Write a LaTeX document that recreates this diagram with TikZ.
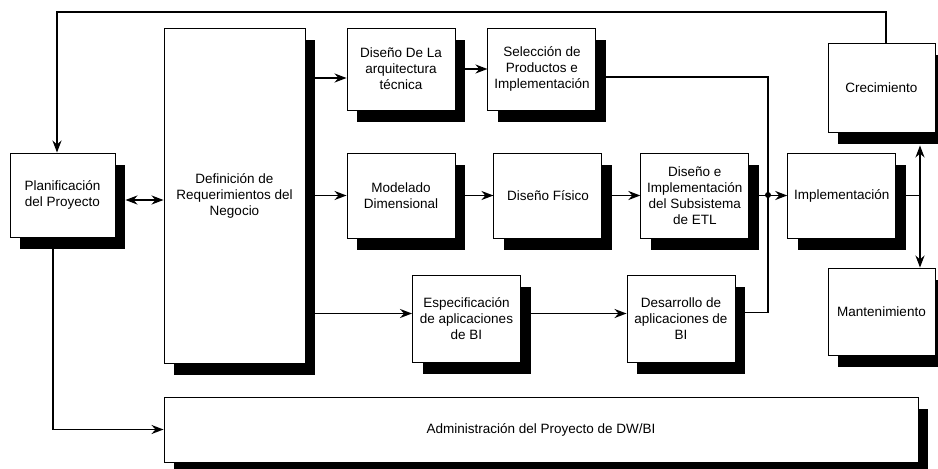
\documentclass[tikz,border=0pt]{standalone}
\usepackage{fontspec}
\setmainfont{Liberation Sans}
\usetikzlibrary{arrows.meta, shadows, positioning, calc}
\tikzset{block/.style = {
  % Rectangle:
  rectangle,
  draw=black, line width=0.9pt, fill=white,
  minimum width=108pt, minimum height=85pt, inner sep=1pt,
  general shadow={fill=black, shadow xshift=10pt, shadow yshift=-12pt},
  % Text
  align=center, font=\fontsize{13.5}{16}\selectfont
  }}
\tikzset{arrow/.style = {
  ->,
  >={Stealth[length=12pt, width=9pt]},
  line width=1.8pt
  }}
\tikzset{link/.style = {
  line width=1.8pt
  }}

\begin{document}
\begin{tikzpicture}[x=1pt, y=-1pt]
\useasboundingbox (0,0) rectangle (938,469);

% NODES
\node (plan) [block, minimum width=105pt, minimum height=84pt] at (62.5,195) {Planificación\\del Proyecto};
\node (defn) [block, minimum width=141pt, minimum height=335pt] at (234.5,195.5) {Definición de\\Requerimientos del\\Negocio};

\node (arq) [block, minimum height=82pt] at (401,69) {Diseño De La\\arquitectura\\técnica};
\node (sel) [block, minimum height=82pt, right=32pt of arq] {Selección de\\Productos e\\Implementación};

\node (mod) [block] at (401,195.5) {Modelado\\Dimensional};
\node (fis) [block, right=38pt of mod] {Diseño Físico};
\node (etl) [block, right=38pt of fis] {Diseño e\\Implementación\\del Subsistema\\de ETL};
\node (impl) [block, right=38pt of etl] {Implementación};

\node (crec) [block, minimum width=107pt, minimum height=89pt] at (881.5,87.5) {Crecimiento};
\node (mant) [block, minimum width=107pt, minimum height=87pt] at (881.5,311.5) {Mantenimiento};

\node (esp) [block, minimum height=87pt] at (466.5,318.5) {Especificación\\de aplicaciones\\de BI};
\node (des) [block, minimum height=87pt] at (681,318.5) {Desarrollo de\\aplicaciones de\\BI};

\node (adm) [block, minimum width=754pt, minimum height=65pt] at (541,429.5) {Administración del Proyecto de DW/BI};

% corners of the connectors
\coordinate (topR) at (886,12);
\coordinate (topL) at (57,12);
\coordinate (admL) at (53,430);
\coordinate (jn) at (768,195);
\coordinate (vr) at (920,195);

% arrows
\draw [arrow] (crec.north -| topR) -- (topR) -- (topL) -- (topL |- plan.north);
\draw [arrow] (plan.south -| admL) |- (adm.west);
\draw [arrow, <->] ($(plan.east)+(10,5)$) -- ($(plan.east -| defn.west)+(0,5)$);

\draw [arrow] ($(arq.west -| defn.east)+(0,9)$) -- ($(arq.west)+(0,9)$);
\draw [arrow] (mod.west -| defn.east) -- (mod.west);
\draw [arrow] ($(esp.west -| defn.east)+(0,-5)$) -- ($(esp.west)+(0,-5)$);

\draw [arrow] (arq) -- (sel);
\draw [arrow] (mod) -- (fis);
\draw [arrow] (fis) -- (etl);
\draw [arrow] (etl) -- (impl);
\draw [arrow] ($(esp.east)+(0,-5)$) -- ($(esp.east -| des.west)+(0,-5)$);

\draw [link] ($(sel.east)+(0,8)$) -| (jn);
\draw [link] ($(des.east)+(0,-6)$) -| (jn);
\fill (jn) circle (3pt);

\draw [link] (impl.east) -- (impl.east -| vr);
\draw [arrow, <->] ($(crec.south -| vr)+(0,13)$) -- (mant.north -| vr);
\end{tikzpicture}
\end{document}
